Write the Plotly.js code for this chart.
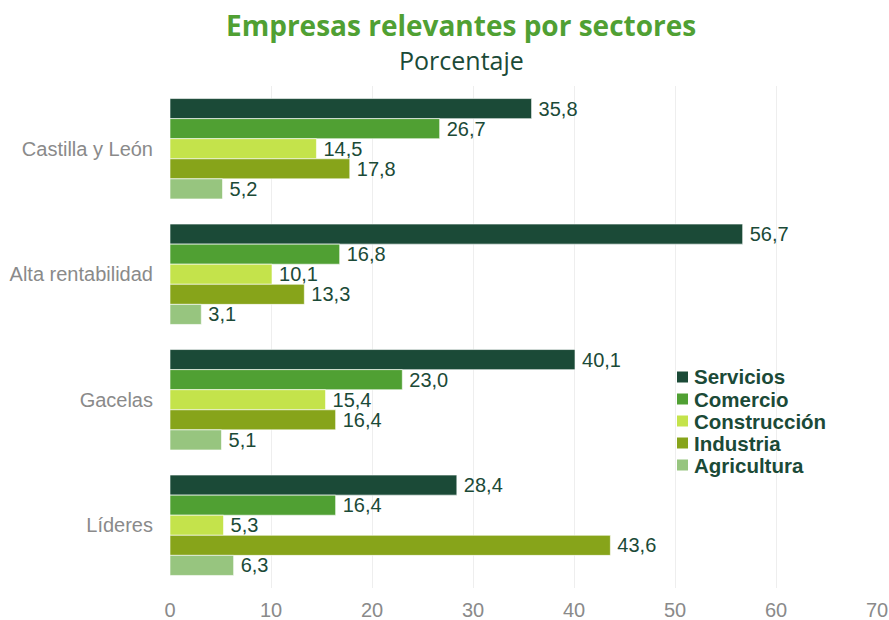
<!DOCTYPE html>
<html>
<head>
<meta charset="utf-8">
<script src="https://cdn.plot.ly/plotly-3.0.1.min.js"></script>
<style>html,body{margin:0;padding:0;background:#fff}#chart{width:889px;height:620px}</style>
</head>
<body>
<div id="chart"></div>
<script>
var categories = ["Castilla y León", "Alta rentabilidad", "Gacelas", "Líderes"];
var seriesNames = ["Servicios", "Comercio", "Construcción", "Industria", "Agricultura"];
var servicios = [35.8, 56.7, 40.1, 28.4];
var comercio = [26.7, 16.8, 23.0, 16.4];
var construccion = [14.5, 10.1, 15.4, 5.3];
var industria = [17.8, 13.3, 16.4, 43.6];
var agricultura = [5.2, 3.1, 5.1, 6.3];
var xTicks = [0, 10, 20, 30, 40, 50, 60, 70];

var seriesValues = [servicios, comercio, construccion, industria, agricultura];
var colors = ["#1b4a37", "#50a033", "#c4e34b", "#87a41a", "#97c57f"];
var FONT = "Liberation Sans, Arial, sans-serif";

var traces = seriesNames.map(function (name, i) {
  return {
    type: "bar",
    orientation: "h",
    name: name,
    y: categories,
    x: seriesValues[i],
    marker: { color: colors[i], line: { color: "#ffffff", width: 0.6 } },
    texttemplate: "\u2009%{x:.1f}",
    textposition: "outside",
    constraintext: "none",
    cliponaxis: false,
    textfont: { family: FONT, size: 20, color: "#1b4a37" },
    showlegend: false,
    hoverinfo: "x+name"
  };
});

// plot area in pixels
var W = 889, H = 620, L = 170, R = 12, T = 86, B = 32;
var pw = W - L - R, ph = H - T - B;
function px2x(px) { return (px - L) / pw; }
function py2y(py) { return (H - B - py) / ph; }

// legend drawn as layout items (squares + labels)
var shapes = [], annotations = [];
seriesNames.forEach(function (name, i) {
  var cy = 377 + 22 * i;
  shapes.push({
    type: "rect", xref: "paper", yref: "paper",
    x0: px2x(677), x1: px2x(688), y0: py2y(cy + 5.5), y1: py2y(cy - 5.5),
    fillcolor: colors[i], line: { width: 0 }
  });
  annotations.push({
    text: "<b>" + name + "</b>", xref: "paper", yref: "paper",
    x: px2x(692), y: py2y(cy), xanchor: "left", yanchor: "middle", showarrow: false,
    font: { family: FONT, size: 20.5, color: "#1b4a37" }
  });
});

annotations.push({
  text: "<b>Empresas relevantes por sectores</b>",
  xref: "paper", yref: "paper", x: px2x(461), y: py2y(25),
  xanchor: "center", yanchor: "middle", showarrow: false,
  font: { family: "Open Sans, sans-serif", size: 28, color: "#50a033" }
});
annotations.push({
  text: "Porcentaje",
  xref: "paper", yref: "paper", x: px2x(461), y: py2y(60),
  xanchor: "center", yanchor: "middle", showarrow: false,
  font: { family: "Open Sans, sans-serif", size: 25, color: "#1b4a37" }
});

var layout = {
  width: W,
  height: H,
  separators: ", ",
  margin: { l: L, r: R, t: T, b: B },
  paper_bgcolor: "#ffffff",
  plot_bgcolor: "#ffffff",
  barmode: "group",
  bargap: 0.2,
  bargroupgap: 0,
  showlegend: false,
  xaxis: {
    range: [0, 70],
    tickvals: xTicks,
    showgrid: true,
    gridcolor: "#eeeeee",
    gridwidth: 1,
    zeroline: false,
    showline: false,
    ticks: "",
    ticklabelstandoff: 8,
    tickfont: { family: FONT, size: 20, color: "#8a8a8a" }
  },
  yaxis: {
    autorange: "reversed",
    showgrid: false,
    zeroline: false,
    showline: false,
    ticks: "",
    ticklabelstandoff: 16,
    tickfont: { family: FONT, size: 20, color: "#8a8a8a" }
  },
  shapes: shapes,
  annotations: annotations
};

Plotly.newPlot("chart", traces, layout, { displayModeBar: false, staticPlot: true });
</script>
</body>
</html>
